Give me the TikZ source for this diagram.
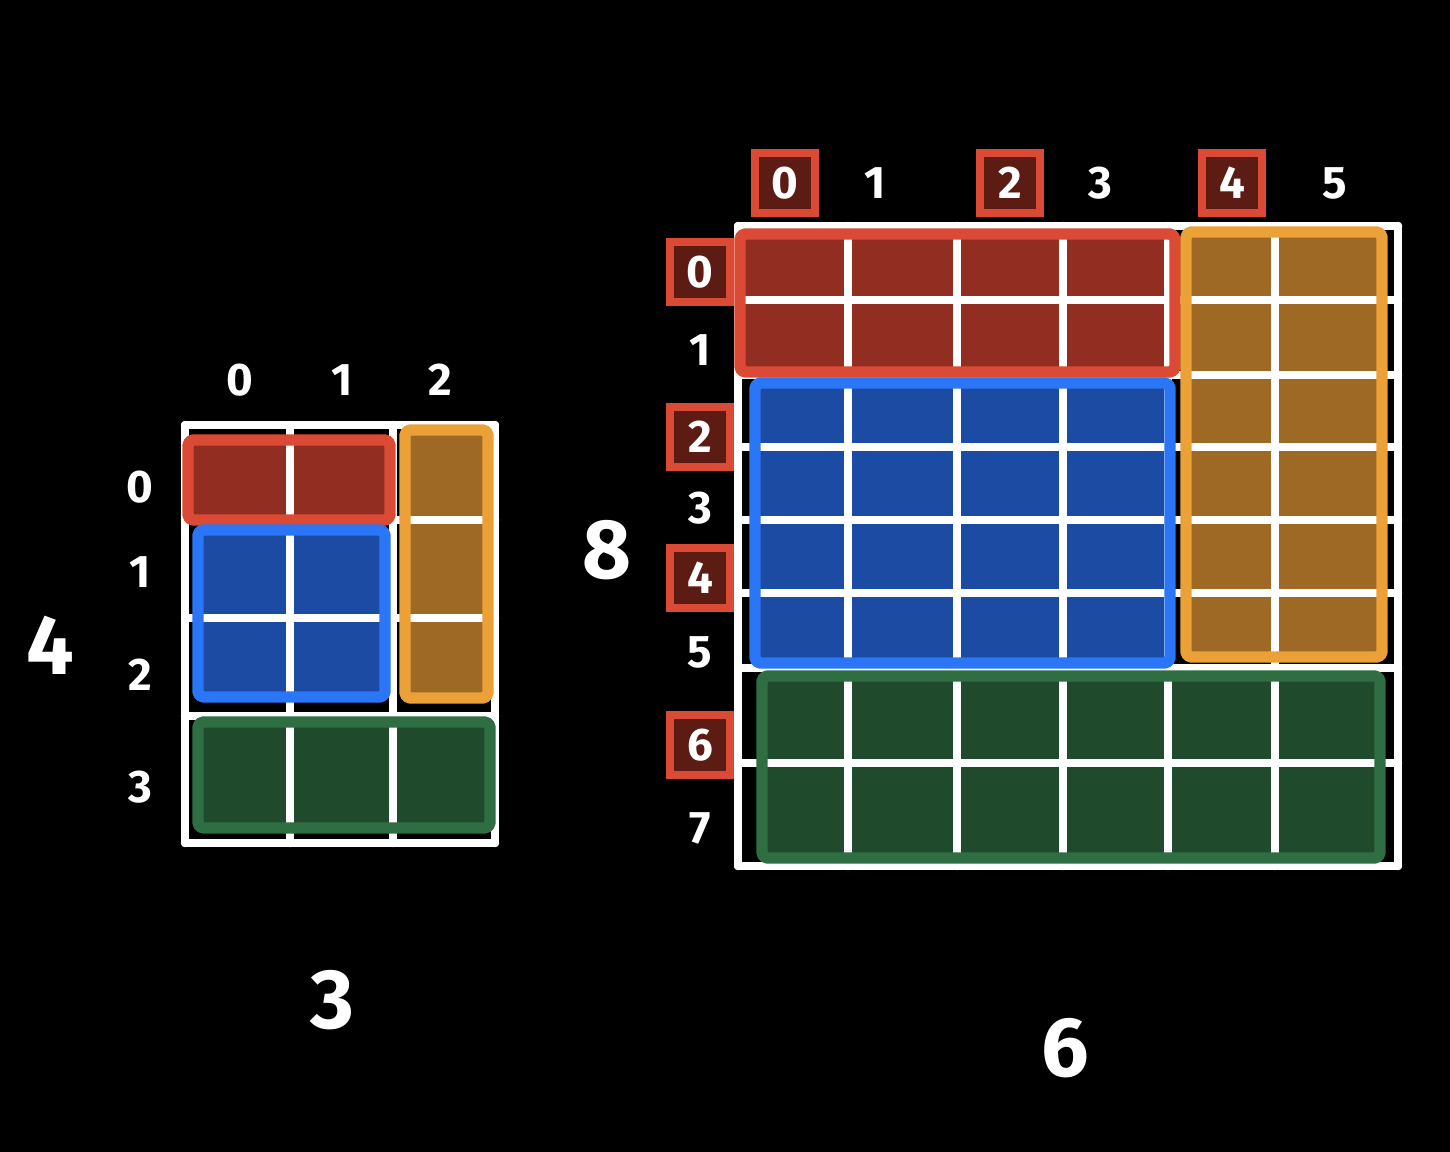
\documentclass[tikz,border=0pt]{standalone}
\usepackage{fontspec}
\setmainfont{Fira Sans}
\definecolor{redfill}{HTML}{922D21}
\definecolor{redline}{HTML}{DB4A34}
\definecolor{orangefill}{HTML}{9E6825}
\definecolor{orangeline}{HTML}{ECA038}
\definecolor{bluefill}{HTML}{1B4BA2}
\definecolor{blueline}{HTML}{2A76F6}
\definecolor{greenfill}{HTML}{1F4A2B}
\definecolor{greenline}{HTML}{2F6E42}
\definecolor{tagfill}{HTML}{5C1B13}
\begin{document}
\begin{tikzpicture}[
  x=0.02cm, y=-0.02cm,
  gridline/.style={white, line width=4.8pt, line cap=round},
  block/.style={line width=6.5pt, rounded corners=3pt, line join=round},
  idx/.style={white, font=\bfseries\fontsize{26}{30}\selectfont, inner sep=0pt},
  dim/.style={white, font=\bfseries\fontsize{48}{54}\selectfont, inner sep=0pt},
  tag/.style={idx, draw=redline, fill=tagfill, line width=4.5pt, minimum size=1.2cm}
]
\fill[black] (0,0) rectangle (1450,1152);
\useasboundingbox (0,0) rectangle (1450,1152);
% small grid, 4 x 3
\foreach \xa/\ya/\xb/\yb/\c in {188/440/390/520/red,405/430/488/698/orange,198/530/385/697/blue,198/722/490/828/green}
  \fill[\c fill] (\xa,\ya) rectangle (\xb,\yb);
\foreach \x in {185,290,393,495}
  \draw[gridline] (\x,425) -- (\x,843);
\foreach \y in {425,520,618,716,843}
  \draw[gridline] (185,\y) -- (495,\y);
\foreach \xa/\ya/\xb/\yb/\c in {188/440/390/520/red,405/430/488/698/orange,198/530/385/697/blue,198/722/490/828/green}
  \draw[block, draw=\c line] (\xa,\ya) rectangle (\xb,\yb);
\foreach \i/\x in {0/240,1/342,2/440}
  \node[idx] (sc\i) at (\x,380) {\i};
\foreach \i/\y in {0/487,1/572,2/675,3/787}
  \node[idx] (sr\i) at (140,\y) {\i};
\node[dim] (srows) at (50,645) {4};
\node[dim] (scols) at (332,1000) {3};
% big grid, 8 x 6
\foreach \xa/\ya/\xb/\yb/\c in {740/234/1175/372/red,1186/232/1382/657/orange,755/383/1170/663/blue,762/676/1380/858/green}
  \fill[\c fill] (\xa,\ya) rectangle (\xb,\yb);
\foreach \x in {738,848,957,1063,1168,1275,1398}
  \draw[gridline] (\x,226) -- (\x,866);
\foreach \y in {226,300,375,447,520,593,668,763,866}
  \draw[gridline] (738,\y) -- (1398,\y);
\foreach \xa/\ya/\xb/\yb/\c in {740/234/1175/372/red,1186/232/1382/657/orange,755/383/1170/663/blue,762/676/1380/858/green}
  \draw[block, draw=\c line] (\xa,\ya) rectangle (\xb,\yb);
\foreach \i/\x/\s in {0/785/tag,1/875/idx,2/1010/tag,3/1100/idx,4/1232/tag,5/1335/idx}
  \node[\s] (bc\i) at (\x,183) {\i};
\foreach \i/\y/\s in {0/272/tag,1/350/idx,2/437/tag,3/508/idx,4/578/tag,5/652/idx,6/745/tag,7/828/idx}
  \node[\s] (br\i) at (700,\y) {\i};
\node[dim] (brows) at (607,550) {8};
\node[dim] (bcols) at (1065,1048) {6};
\end{tikzpicture}
\end{document}
